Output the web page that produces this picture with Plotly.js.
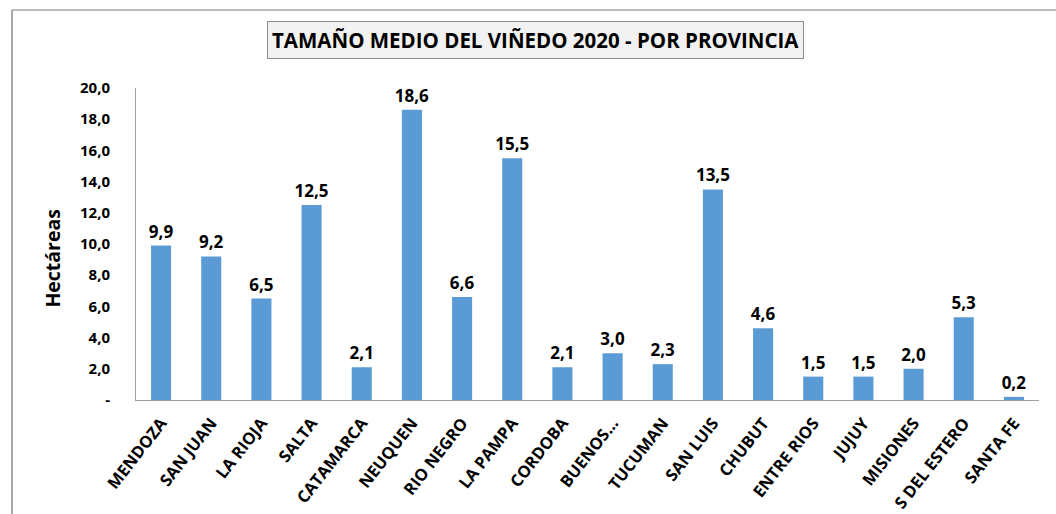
<!DOCTYPE html>
<html>
<head>
<meta charset="utf-8">
<script src="https://cdn.plot.ly/plotly-3.0.1.min.js"></script>
<style>
  html, body { margin: 0; padding: 0; background: #ffffff; }
  #chart { width: 1056px; height: 514px; }
</style>
</head>
<body>
<div id="chart"></div>
<script>
// Average vineyard size (hectares) by province, 2020
const provincias = [
  "MENDOZA", "SAN JUAN", "LA RIOJA", "SALTA", "CATAMARCA", "NEUQUEN",
  "RIO NEGRO", "LA PAMPA", "CORDOBA", "BUENOS...", "TUCUMAN", "SAN LUIS",
  "CHUBUT", "ENTRE RIOS", "JUJUY", "MISIONES", "S DEL ESTERO", "SANTA FE"
];
const hectareas = [9.9, 9.2, 6.5, 12.5, 2.1, 18.6, 6.6, 15.5, 2.1, 3.0, 2.3, 13.5, 4.6, 1.5, 1.5, 2.0, 5.3, 0.2];
const yTickVals = [0, 2, 4, 6, 8, 10, 12, 14, 16, 18, 20];
const yTickText = ["-", "2,0", "4,0", "6,0", "8,0", "10,0", "12,0", "14,0", "16,0", "18,0", "20,0"];
const titulo = "TAMAÑO MEDIO DEL VIÑEDO 2020 - POR PROVINCIA";
const tituloY = "Hectáreas";

const fmt = v => v.toFixed(1).replace(".", ",");
const FONT = "Open Sans, Noto Sans, Arial, sans-serif";

const trace = {
  type: "bar",
  x: provincias,
  y: hectareas,
  width: 0.4,
  marker: { color: "#5b9bd5" },
  text: hectareas.map(fmt),
  textposition: "outside",
  constraintext: "none",
  cliponaxis: false,
  textfont: { family: FONT, size: 17, color: "#000000", weight: "bold" },
  hoverinfo: "x+y"
};

const frameColor = "#a6a6a6";

const layout = {
  width: 1056,
  height: 514,
  margin: { l: 136, r: 17, t: 88, b: 114 },
  paper_bgcolor: "#ffffff",
  plot_bgcolor: "#ffffff",
  showlegend: false,
  font: { family: FONT, color: "#000000" },
  xaxis: {
    type: "category",
    tickangle: -52,
    showline: true,
    linecolor: "#a0a0a0",
    linewidth: 1,
    ticks: "",
    ticklabelstandoff: 6,
    tickfont: { family: FONT, size: 16.5, weight: "bold", color: "#000000" },
    showgrid: false,
    zeroline: false
  },
  yaxis: {
    range: [0, 20],
    tickvals: yTickVals,
    ticktext: yTickText,
    showline: true,
    linecolor: "#a0a0a0",
    linewidth: 1,
    ticks: "",
    ticklabelstandoff: 22,
    showgrid: false,
    zeroline: false,
    tickfont: { family: FONT, size: 15, weight: "bold", color: "#000000" }
  },
  annotations: [{
    xref: "paper", yref: "paper",
    x: 0.442, y: 1.155,
    xanchor: "center", yanchor: "middle",
    text: titulo,
    showarrow: false,
    font: { family: FONT, size: 20.5, weight: "bold", color: "#000000" },
    bgcolor: "#f2f2f2",
    bordercolor: "#8c8c8c",
    borderwidth: 1,
    borderpad: 4
  }, {
    xref: "paper", yref: "paper",
    x: -0.0935, y: 0.455,
    xanchor: "center", yanchor: "middle",
    text: tituloY,
    textangle: -90,
    showarrow: false,
    font: { family: FONT, size: 19.5, weight: "bold", color: "#000000" }
  }],
  shapes: [
    { type: "line", xref: "paper", yref: "paper", x0: -0.1373, x1: 1.02, y0: 1.25, y1: 1.25,
      line: { color: frameColor, width: 1.5 } },
    { type: "line", xref: "paper", yref: "paper", x0: -0.1373, x1: -0.1373, y0: 1.25, y1: -0.37,
      line: { color: "#8c8c8c", width: 1.5 } }
  ]
};

Plotly.newPlot("chart", [trace], layout, { displayModeBar: false, staticPlot: true });
</script>
</body>
</html>
